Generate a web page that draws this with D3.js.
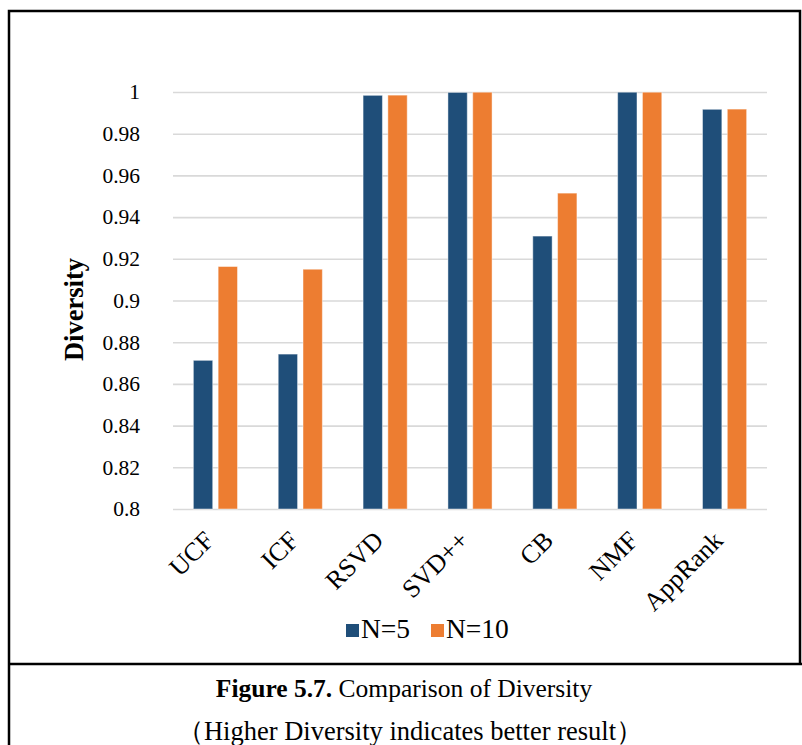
<!DOCTYPE html>
<html>
<head>
<meta charset="utf-8">
<script src="https://cdn.jsdelivr.net/npm/d3@7"></script>
<style>
  body { margin: 0; background: #fff; }
  svg { display: block; }
  text { font-family: "Liberation Serif", "Times New Roman", serif; fill: #000; }
</style>
</head>
<body>
<div id="chart"></div>
<script>
// data
const methods = ["UCF", "ICF", "RSVD", "SVD++", "CB", "NMF", "AppRank"];
const seriesNames = ["N=5", "N=10"];
const n5 = [0.8713, 0.8743, 0.9984, 0.9998, 0.9309, 0.9999, 0.9917];
const n10 = [0.9163, 0.9150, 0.9985, 0.9999, 0.9515, 0.9999, 0.9918];
const yTicks = [0.8, 0.82, 0.84, 0.86, 0.88, 0.9, 0.92, 0.94, 0.96, 0.98, 1];
const colors = ["#1f4e79", "#ed7d31"];

const W = 802, H = 745;
const MARGIN = { LEFT: 173, RIGHT: 35, TOP: 92, BOTTOM: 236 };
const plotW = W - MARGIN.LEFT - MARGIN.RIGHT;
const plotH = H - MARGIN.TOP - MARGIN.BOTTOM;
const SERIF = "'Liberation Serif', 'Times New Roman', serif";

const svg = d3.select("#chart").append("svg")
    .attr("width", W)
    .attr("height", H)
    .attr("font-family", SERIF);

// frame around figure + caption box
const frame = svg.append("g")
    .attr("stroke", "#000")
    .attr("stroke-width", 2.5)
    .attr("fill", "none");
frame.append("path").attr("d", "M9,745 V11 H800 V664");
frame.append("line").attr("x1", 9).attr("x2", 802).attr("y1", 664).attr("y2", 664);

const g = svg.append("g")
    .attr("transform", `translate(${MARGIN.LEFT},${MARGIN.TOP})`);

const y = d3.scaleLinear()
    .domain([0.8, 1])
    .range([plotH, 0]);

const x0 = d3.scaleBand()
    .domain(methods)
    .range([0, plotW])
    .paddingInner(0.48)
    .paddingOuter(0.24);

const x1 = d3.scaleBand()
    .domain(seriesNames)
    .range([0, x0.bandwidth()])
    .paddingInner(0.22);

// gridlines + tick labels
const yAxis = d3.axisLeft(y)
    .tickValues(yTicks)
    .tickSize(-plotW)
    .tickPadding(33)
    .tickFormat(d => d3.format("")(+d.toFixed(2)));

const ya = g.append("g")
    .call(yAxis)
    .attr("font-family", SERIF)
    .attr("font-size", 21.5);
ya.select(".domain").remove();
ya.selectAll(".tick line")
    .attr("stroke", "#d9d9d9")
    .attr("stroke-width", 1.6);
ya.selectAll(".tick text")
    .attr("fill", "#000");

// bars
const rows = methods.map((m, i) => ({ method: m, values: [n5[i], n10[i]] }));

const groups = g.selectAll("g.grp")
    .data(rows)
    .enter().append("g")
    .attr("class", "grp")
    .attr("transform", d => `translate(${x0(d.method)},0)`);

groups.selectAll("rect")
    .data(d => d.values.map((v, k) => ({ key: seriesNames[k], value: v, k: k })))
    .enter().append("rect")
    .attr("x", d => x1(d.key))
    .attr("width", x1.bandwidth())
    .attr("y", d => y(d.value))
    .attr("height", d => plotH - y(d.value))
    .attr("fill", d => colors[d.k])
    .attr("stroke", "#ffffff")
    .attr("stroke-opacity", 0.45)
    .attr("stroke-width", 1);

// category labels, rotated
g.selectAll("text.cat")
    .data(methods)
    .enter().append("text")
    .attr("class", "cat")
    .attr("text-anchor", "end")
    .attr("transform", d => `translate(${x0(d) + x0.bandwidth() / 2},${plotH + 33}) rotate(-45)`)
    .style("font-size", "26px")
    .text(d => d);

// y axis title
svg.append("text")
    .attr("transform", `translate(83,${MARGIN.TOP + plotH / 2 + 9}) rotate(-90)`)
    .attr("text-anchor", "middle")
    .style("font-size", "26.5px")
    .style("font-weight", "bold")
    .text("Diversity");

// legend
const legend = svg.append("g").attr("transform", "translate(346,624)");
const legX = [0, 85];
seriesNames.forEach((s, i) => {
    legend.append("rect")
        .attr("x", legX[i])
        .attr("y", 0)
        .attr("width", 13)
        .attr("height", 13)
        .attr("fill", colors[i]);
    legend.append("text")
        .attr("x", legX[i] + 15)
        .attr("y", 14)
        .style("font-size", "27.5px")
        .text(s);
});

// caption
const cap = svg.append("text")
    .attr("x", 404)
    .attr("y", 697)
    .attr("text-anchor", "middle")
    .style("font-size", "25.5px");
cap.append("tspan").style("font-weight", "bold").text("Figure 5.7.");
cap.append("tspan").text(" Comparison of Diversity");

svg.append("text")
    .attr("x", 410)
    .attr("y", 740)
    .attr("text-anchor", "middle")
    .style("font-size", "26.5px")
    .text("（Higher Diversity indicates better result）");
</script>
</body>
</html>
